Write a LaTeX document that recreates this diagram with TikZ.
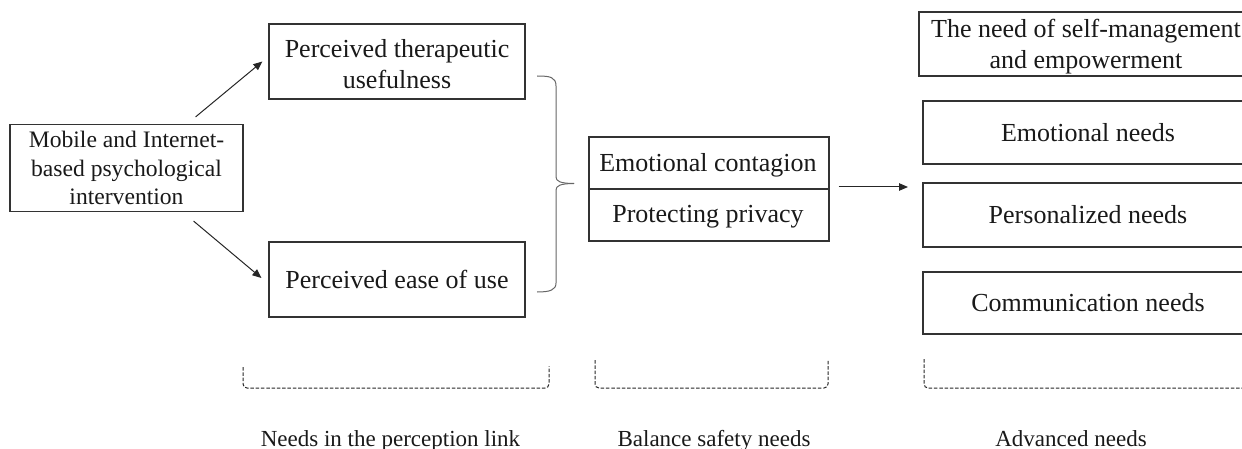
\documentclass[tikz,border=0pt]{standalone}
\usepackage{fontspec}
\setmainfont{Liberation Serif}
\usetikzlibrary{arrows.meta}
\begin{document}
\begin{tikzpicture}[x=1pt,y=-1pt,
  box/.style={draw=black!80, line width=1.2pt, inner sep=0pt, align=center, text=black!90},
  bigtxt/.style={font=\fontsize{26}{31}\selectfont},
  plain/.style={inner sep=0pt, text=black!90, align=center},
  conn/.style={draw=black!85, line width=1pt, -{Triangle[length=9pt,width=7.5pt]}},
  bracegray/.style={draw=black!60, line width=1pt},
  dashbr/.style={draw=black!85, line width=1pt, dash pattern=on 3.5pt off 1.8pt, rounded corners=4pt},
  lbl/.style={inner sep=0pt, anchor=base, font=\fontsize{23}{27}\selectfont, text=black!90}]
\useasboundingbox (0,0) rectangle (1242,449);

% left column
\node[box, minimum width=233pt, minimum height=87pt, font=\fontsize{23.6}{28.5}\selectfont] (mob) at (126.5,168) {Mobile and Internet-\\based psychological\\intervention};
\node[box, minimum width=256pt, minimum height=75pt] (ptu) at (397,61.5) {};
\node[plain, bigtxt] (ptut) at (397,64.5) {Perceived therapeutic\\usefulness};
\node[box, bigtxt, minimum width=256pt, minimum height=75pt] (peu) at (397,279.5) {Perceived ease of use};

\draw[conn] ([shift={(-48pt,7pt)}]mob.north east) -- ([xshift=-6pt]ptu.west);
\draw[conn] ([shift={(-50pt,-9pt)}]mob.south east) -- ([shift={(-7pt,1.5pt)}]peu.west);

% brace
\draw[bracegray] (537,76) .. controls (550,76) and (556,77) .. (556,86) -- (556,177)
  .. controls (556,181) and (560,183.5) .. (574,183.5);
\draw[bracegray] (574,183.5) .. controls (560,183.5) and (556,186) .. (556,190) -- (556,283)
  .. controls (556,290) and (550,292) .. (537,292);

% middle box
\node[box, minimum width=240pt, minimum height=104pt] (sbox) at (709,189) {};
\draw[draw=black!80, line width=1.2pt] (sbox.west) -- (sbox.east);
\node[plain, bigtxt] (ec) at (708,165) {Emotional contagion};
\node[plain, bigtxt] (pp) at (708,217) {Protecting privacy};

\coordinate (arrend) at (908,187);
\draw[conn] ([shift={(9pt,2pt)}]sbox.east) -- (arrend);

% right column
\node[box, minimum width=334pt, minimum height=64pt] (selfm) at (1086,44) {};
\node[plain, bigtxt] (selfmt) at (1086,47) {The need of self-management\\and empowerment};
\node[box, bigtxt, minimum width=330pt, minimum height=63pt] (emn) at (1088,132.5) {Emotional needs};
\node[box, bigtxt, minimum width=330pt, minimum height=64pt] (pers) at (1088,215) {Personalized needs};
\node[box, bigtxt, minimum width=330pt, minimum height=62pt] (comm) at (1088,303) {Communication needs};

% dashed brackets
\draw[dashbr] (243,367) -- (243,388) -- (549,388) -- (549,366);
\draw[dashbr] (595,360) -- (595,388) -- (828,388) -- (828,360);
\draw[dashbr] (924,359) -- (924,388) -- (1260,388);

% labels
\node[lbl] (l1) at (390.5,446) {Needs in the perception link};
\node[lbl] (l2) at (714,446) {Balance safety needs};
\node[lbl] (l3) at (1071,446) {Advanced needs};
\end{tikzpicture}
\end{document}
